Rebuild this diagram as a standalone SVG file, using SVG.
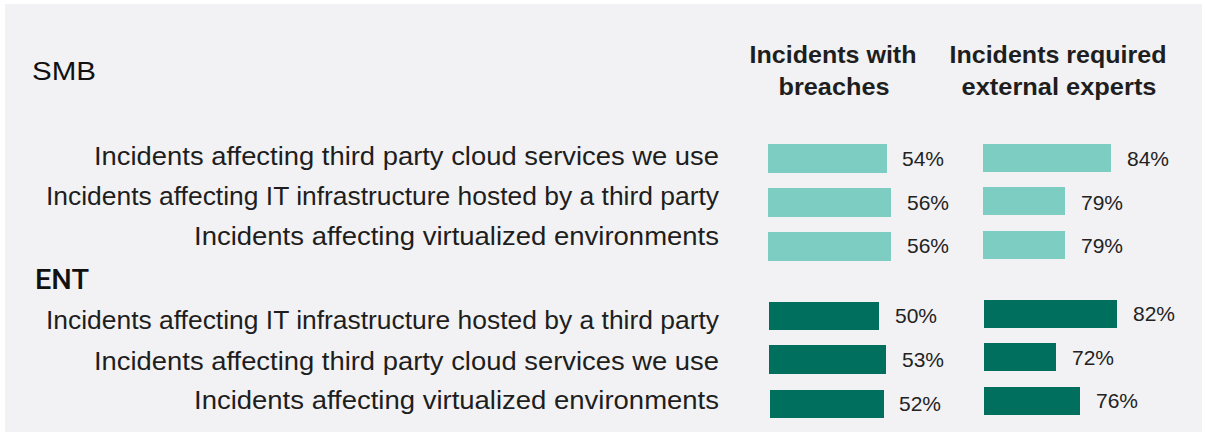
<svg xmlns="http://www.w3.org/2000/svg" width="1206" height="433" viewBox="0 0 1206 433">
<style>
.lbl{font-family:"Liberation Sans",Arial,sans-serif;font-size:25px;fill:#1e1e1e;text-anchor:end}
.grp{font-family:"Liberation Sans",Arial,sans-serif;fill:#111}
.hdr{font-family:"Liberation Sans",Arial,sans-serif;font-size:24px;font-weight:bold;fill:#1e1e1e;text-anchor:middle}
.pct{font-family:"Liberation Sans",Arial,sans-serif;font-size:21px;fill:#222}
.smb{fill:#7dcdc2}
.ent{fill:#006f5e}
</style>
<rect x="0" y="0" width="1206" height="433" fill="#ffffff"/>
<rect x="5" y="4" width="1197" height="428" fill="#f2f2f4"/>
<g id="headers">
<text class="hdr" x="833" y="63" textLength="167" lengthAdjust="spacingAndGlyphs">Incidents with</text>
<text class="hdr" x="834" y="95" textLength="111" lengthAdjust="spacingAndGlyphs">breaches</text>
<text class="hdr" x="1058" y="63" textLength="217" lengthAdjust="spacingAndGlyphs">Incidents required</text>
<text class="hdr" x="1059" y="95" textLength="195" lengthAdjust="spacingAndGlyphs">external experts</text>
</g>
<g id="smb-title"><text class="grp" x="32" y="80" font-size="26" textLength="64" lengthAdjust="spacingAndGlyphs">SMB</text></g>
<g id="ent-title"><text x="35" y="289" font-family="Roboto,'Liberation Sans',sans-serif" font-size="28" font-weight="500" fill="#111" textLength="54" lengthAdjust="spacingAndGlyphs">ENT</text></g>

<g id="smb-cloud">
<text class="lbl" x="719" y="165" textLength="625" lengthAdjust="spacingAndGlyphs">Incidents affecting third party cloud services we use</text>
<rect class="smb" x="768" y="144" width="119" height="29"/>
<text class="pct" x="902" y="166">54%</text>
<rect class="smb" x="983" y="144" width="128" height="28"/>
<text class="pct" x="1127" y="166">84%</text>
</g>
<g id="smb-it">
<text class="lbl" x="719" y="205" textLength="673" lengthAdjust="spacingAndGlyphs">Incidents affecting IT infrastructure hosted by a third party</text>
<rect class="smb" x="768" y="188" width="123" height="29"/>
<text class="pct" x="907" y="210">56%</text>
<rect class="smb" x="983" y="187" width="82" height="28"/>
<text class="pct" x="1081" y="210">79%</text>
</g>
<g id="smb-virt">
<text class="lbl" x="719" y="245" textLength="525" lengthAdjust="spacingAndGlyphs">Incidents affecting virtualized environments</text>
<rect class="smb" x="768" y="232" width="123" height="29"/>
<text class="pct" x="907" y="253">56%</text>
<rect class="smb" x="983" y="231" width="82" height="28"/>
<text class="pct" x="1081" y="253">79%</text>
</g>

<g id="ent-it">
<text class="lbl" x="719" y="329" textLength="673" lengthAdjust="spacingAndGlyphs">Incidents affecting IT infrastructure hosted by a third party</text>
<rect class="ent" x="769" y="302" width="110" height="28"/>
<text class="pct" x="895" y="323">50%</text>
<rect class="ent" x="984" y="300" width="133" height="28"/>
<text class="pct" x="1133" y="321">82%</text>
</g>
<g id="ent-cloud">
<text class="lbl" x="719" y="370" textLength="625" lengthAdjust="spacingAndGlyphs">Incidents affecting third party cloud services we use</text>
<rect class="ent" x="769" y="345" width="117" height="29"/>
<text class="pct" x="902" y="367">53%</text>
<rect class="ent" x="984" y="343" width="72" height="28"/>
<text class="pct" x="1072" y="365">72%</text>
</g>
<g id="ent-virt">
<text class="lbl" x="719" y="409" textLength="525" lengthAdjust="spacingAndGlyphs">Incidents affecting virtualized environments</text>
<rect class="ent" x="770" y="390" width="114" height="28"/>
<text class="pct" x="899" y="411">52%</text>
<rect class="ent" x="984" y="387" width="96" height="28"/>
<text class="pct" x="1096" y="408">76%</text>
</g>
</svg>
